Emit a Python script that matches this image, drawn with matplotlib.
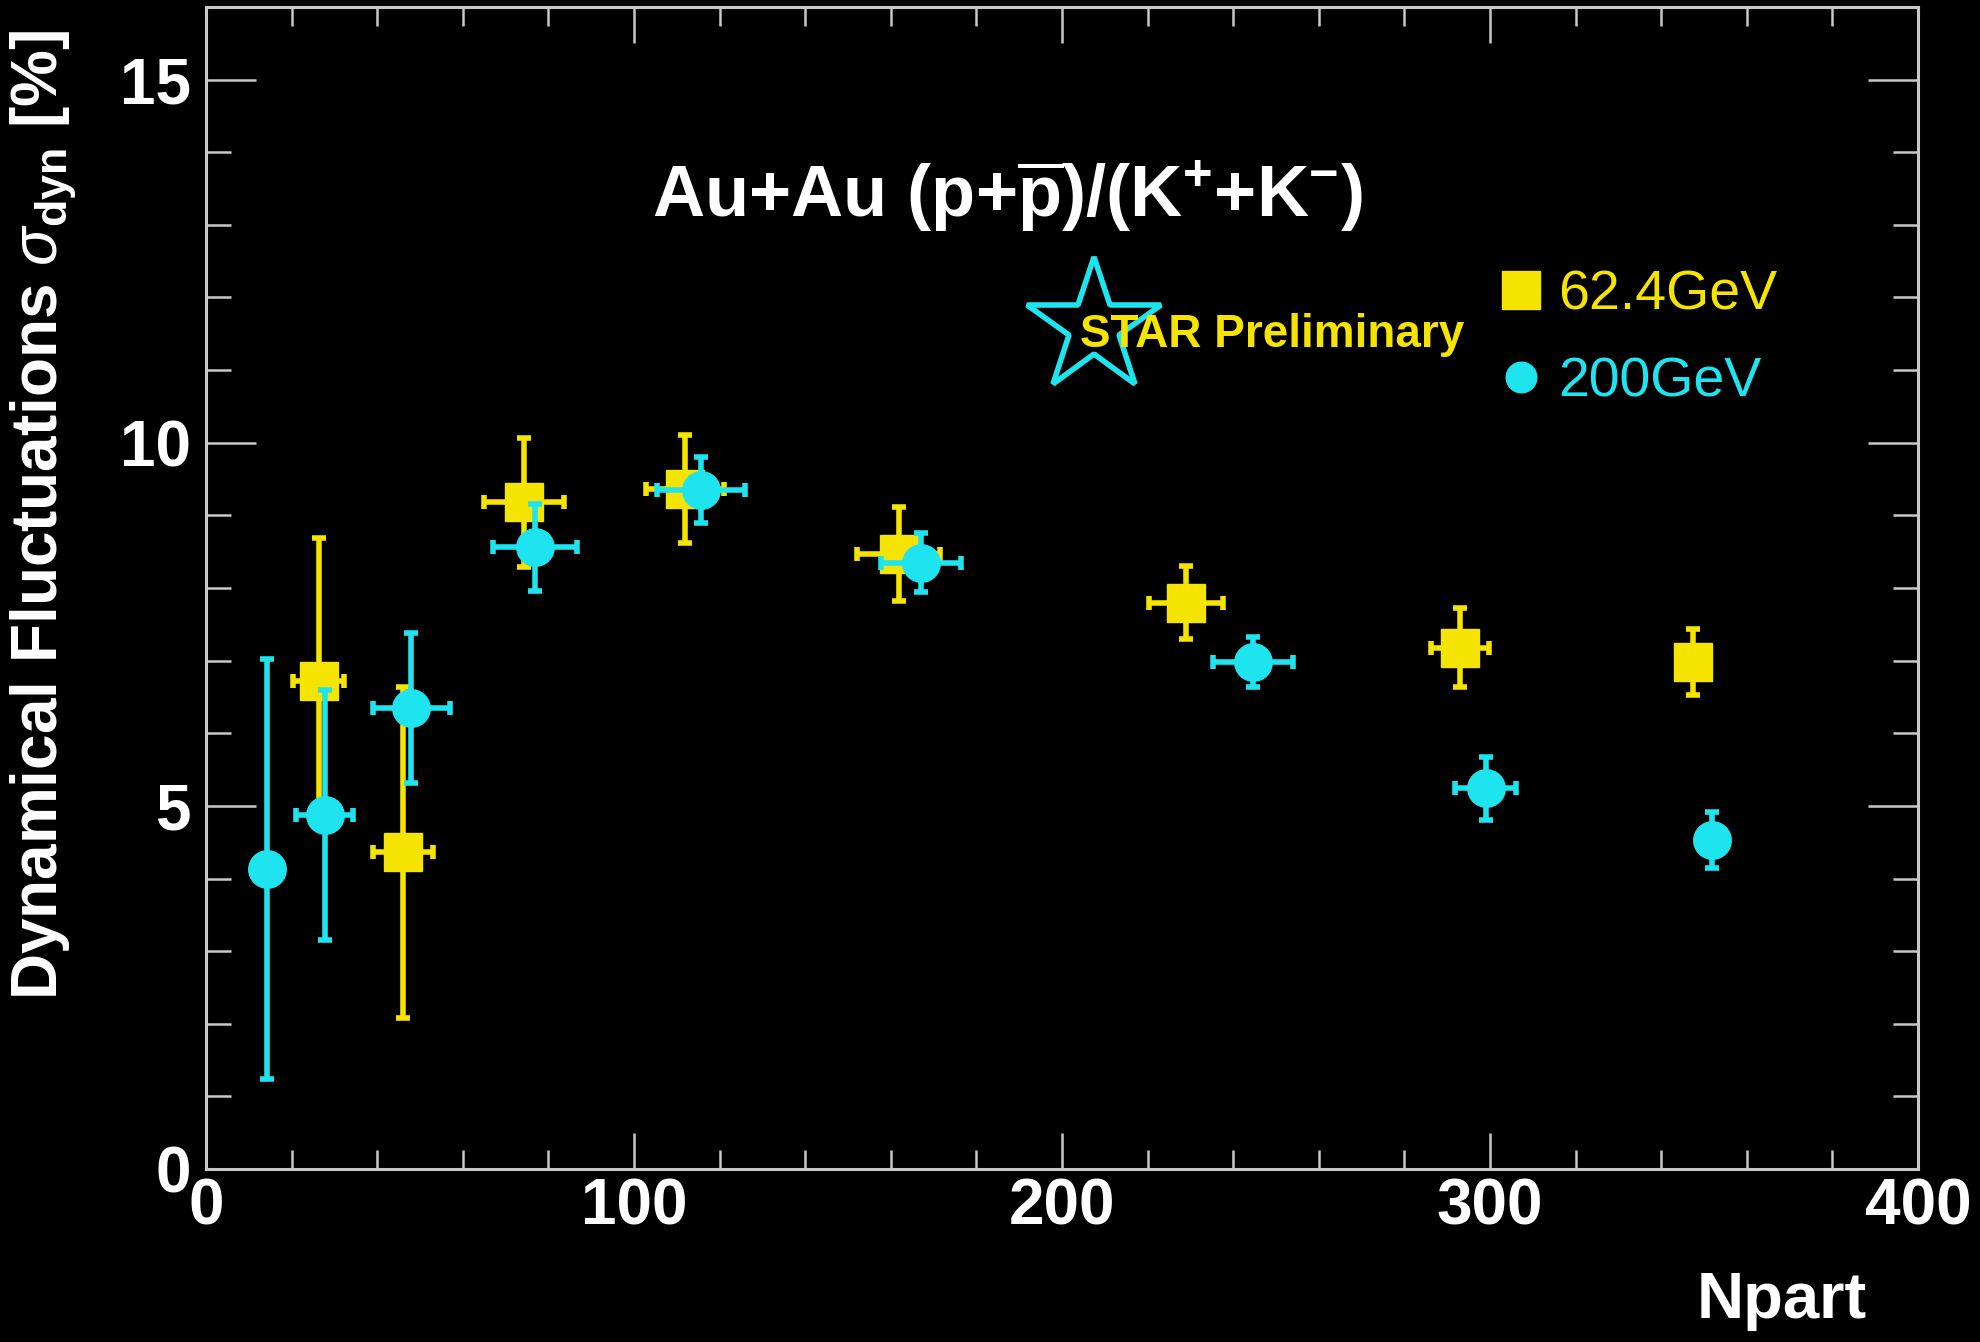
import matplotlib
matplotlib.use("Agg")
import matplotlib.pyplot as plt
from matplotlib.lines import Line2D
from matplotlib.ticker import MultipleLocator

plt.rcParams["font.family"] = ["Liberation Sans", "DejaVu Sans"]
plt.rcParams["mathtext.fontset"] = "custom"
plt.rcParams["mathtext.rm"] = "Liberation Sans:bold"
plt.rcParams["mathtext.bf"] = "Liberation Sans:bold"
plt.rcParams["mathtext.it"] = "Liberation Sans:italic"
plt.rcParams["mathtext.sf"] = "Liberation Sans"

YELLOW = "#f5e400"
CYAN = "#1de4ef"
FRAME = "#c8c8c8"

# Au+Au 62.4 GeV
NPART_62 = [26.3, 46.0, 74.3, 111.9, 161.9, 228.9, 293.0, 347.4]
SIGMA_62 = [6.72, 4.36, 9.18, 9.36, 8.47, 7.80, 7.18, 6.98]
YERR_62 = [1.97, 2.28, 0.89, 0.74, 0.65, 0.50, 0.54, 0.45]
XERR_62 = [6.0, 7.1, 9.4, 9.2, 9.7, 8.6, 6.7, 3.0]

# Au+Au 200 GeV
NPART_200 = [14.3, 27.7, 48.0, 76.9, 115.7, 167.1, 244.6, 299.0, 351.9]
SIGMA_200 = [4.13, 4.87, 6.35, 8.56, 9.35, 8.35, 6.98, 5.24, 4.53]
YERR_200 = [2.89, 1.72, 1.03, 0.60, 0.45, 0.41, 0.34, 0.43, 0.39]
XERR_200 = [2.0, 6.7, 8.9, 9.8, 10.3, 9.3, 9.3, 7.1, 3.0]

LABELS = ["62.4GeV", "200GeV"]
TITLE = r"Au+Au (p+$\overline{\mathbf{p}}$)/(K$^{+}$+K$^{-}$)"
YLABEL = r"Dynamical Fluctuations $\sigma_{\mathrm{dyn}}$ [%]"
XLABEL = "Npart"


def main() -> None:
    fig = plt.figure(figsize=(19.81, 13.42), dpi=100, facecolor="black")
    ax = fig.add_axes([0.104, 0.1289, 0.8642, 0.8659])
    ax.set_facecolor("black")

    ax.errorbar(NPART_62, SIGMA_62, xerr=XERR_62, yerr=YERR_62, fmt="s", color=YELLOW,
                ms=27, elinewidth=4, capsize=5, capthick=4, zorder=3)
    ax.errorbar(NPART_200, SIGMA_200, xerr=XERR_200, yerr=YERR_200, fmt="o", color=CYAN,
                ms=27, elinewidth=4, capsize=5, capthick=4, zorder=4)

    ax.set_xlim(0, 400)
    ax.set_ylim(0, 16)
    ax.xaxis.set_major_locator(MultipleLocator(100))
    ax.xaxis.set_minor_locator(MultipleLocator(20))
    ax.yaxis.set_major_locator(MultipleLocator(5))
    ax.yaxis.set_minor_locator(MultipleLocator(1))

    ax.tick_params(which="both", direction="in", top=True, right=True, colors=FRAME,
                   labelcolor="white", width=1.8)
    ax.tick_params(axis="y", which="major", length=36, pad=11, labelsize=46)
    ax.tick_params(axis="y", which="minor", length=18)
    ax.tick_params(axis="x", which="major", length=26, pad=6, labelsize=46)
    ax.tick_params(axis="x", which="minor", length=13.5)
    plt.setp(ax.get_xticklabels() + ax.get_yticklabels(), fontweight="bold")
    for sp in ax.spines.values():
        sp.set_color(FRAME)
        sp.set_linewidth(2.2)

    ax.set_xlabel(XLABEL, fontsize=47, fontweight="bold", color="white", ha="right", va="center")
    ax.xaxis.set_label_coords(0.970, -0.1135)
    ax.set_ylabel(YLABEL, fontsize=46, fontweight="bold", color="white", va="center")
    ax.yaxis.set_label_coords(-0.0946, 0.563)

    ax.text(0.468, 0.837, TITLE, transform=ax.transAxes, ha="center", va="center",
            fontsize=52, fontweight="bold", color="white")

    # STAR Preliminary logo
    ax.plot([0.5187], [0.7246], transform=ax.transAxes, marker="*", ms=101, mfc="black",
            mec=CYAN, mew=4, ls="none", zorder=5)
    ax.text(0.5105, 0.718, "STAR Preliminary", transform=ax.transAxes, ha="left", va="center",
            fontsize=33, fontweight="bold", color=YELLOW, zorder=6)

    handles = [
        Line2D([], [], ls="none", marker="s", ms=27, color=YELLOW),
        Line2D([], [], ls="none", marker="o", ms=22, color=CYAN),
    ]
    ax.legend(handles, LABELS, loc="upper left", bbox_to_anchor=(0.755, 0.774), frameon=False,
              fontsize=40, labelcolor=[YELLOW, CYAN], handlelength=0.8, handletextpad=0.28,
              labelspacing=0.63, borderpad=0, borderaxespad=0)

    fig.savefig("out.png", dpi=100, facecolor="black")
    plt.close(fig)


if __name__ == "__main__":
    main()
